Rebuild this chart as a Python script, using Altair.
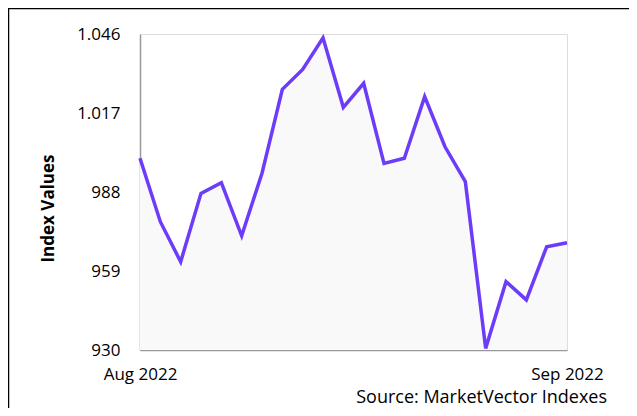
import altair as alt
import pandas as pd

idx = list(range(22))
values = [1000.4, 977.1, 962.4, 987.5, 991.4, 971.9, 994.9, 1025.7, 1033.0, 1044.6,
          1019.1, 1027.9, 998.5, 1000.4, 1023.0, 1004.6, 991.8, 930.6, 955.1, 948.4,
          967.9, 969.4]
x_ticks = [0, 21]
x_labels = ["Aug 2022", "Sep 2022"]
y_ticks = [930, 959, 988, 1017, 1046]

df = pd.DataFrame({"i": idx, "v": values})

FONT = "Open Sans"
W, H = 427, 316

x_enc = alt.X("i:Q", scale=alt.Scale(domain=[0, 21], nice=False, zero=False),
              axis=alt.Axis(values=x_ticks, title=None, grid=False, ticks=False,
                            domainColor="#999999", domainWidth=1.5,
                            labelExpr="datum.value == 0 ? '%s' : '%s'" % (x_labels[0], x_labels[1]),
                            labelFont=FONT, labelFontSize=17, labelColor="#000000",
                            labelPadding=16, labelFlush=False))
y_enc = alt.Y("v:Q", scale=alt.Scale(domain=[930, 1046], nice=False, zero=False),
              axis=alt.Axis(values=y_ticks, grid=False, ticks=False,
                            domainColor="#999999", domainWidth=1.5,
                            labelExpr="replace(format(datum.value, ','), ',', '.')",
                            labelFont=FONT, labelFontSize=17, labelColor="#000000",
                            labelPadding=20,
                            title="Index Values", titleFont=FONT, titleFontSize=17,
                            titleFontWeight="bold", titleColor="#000000",
                            titleAngle=-90, titleX=-92, titleY=174,
                            titleAlign="center", titleBaseline="middle"))

area = alt.Chart(df).mark_area(color="#f9f9f9", opacity=1).encode(
    x=x_enc, y=alt.Y("v:Q", scale=alt.Scale(domain=[930, 1046], nice=False, zero=False)),
    y2=alt.datum(930))
line = alt.Chart(df).mark_line(color="#6c3cf9", strokeWidth=3.5, strokeJoin="miter").encode(
    x=x_enc, y=y_enc)

source = alt.Chart(pd.DataFrame({"t": ["Source: MarketVector Indexes"]})).mark_text(
    font=FONT, fontSize=18, color="#000000", align="right", baseline="alphabetic").encode(
    x=alt.value(467), y=alt.value(369), text="t:N")

top_rule = alt.Chart(pd.DataFrame({"a": [0]})).mark_rule(color="#000000", strokeWidth=1.5).encode(
    x=alt.value(-132), x2=alt.value(700), y=alt.value(-25.5))
left_rule = alt.Chart(pd.DataFrame({"a": [0]})).mark_rule(color="#000000", strokeWidth=1.5).encode(
    x=alt.value(-131.5), y=alt.value(-26), y2=alt.value(600))

chart = alt.layer(area, line, source, top_rule, left_rule).properties(
    width=W, height=H,
    padding={"left": 132, "top": 26, "right": 62, "bottom": 58},
    autosize=alt.AutoSizeParams(type="none"),
).configure_view(stroke=None).configure(background="#ffffff")

chart.save("out.html", embed_options={"renderer": "svg", "actions": False})
